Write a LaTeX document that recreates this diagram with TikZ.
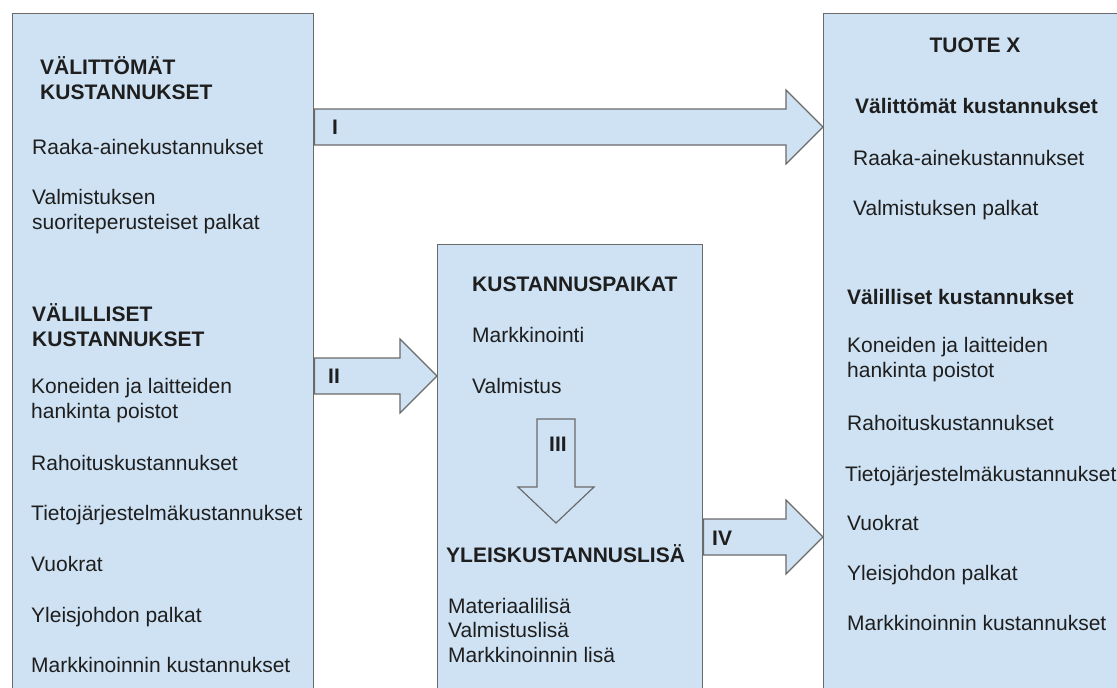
\documentclass[tikz,border=0pt]{standalone}
\usepackage{fontspec}
\setmainfont{Liberation Sans}
\usepackage{xcolor}
\usetikzlibrary{calc}

\definecolor{boxblue}{HTML}{CFE2F3}
\definecolor{edgegray}{HTML}{6A6A6A}
\definecolor{txtcol}{HTML}{1E1E1E}

% block arrows: #1 = tail, #2 = tip
\newcommand{\harrow}[2]{%
  \draw[blockarr] ($(#1)+(0,-18)$) -- ($(#2)+(-37,-18)$) -- ($(#2)+(-37,-37)$) -- (#2)
    -- ($(#2)+(-37,37)$) -- ($(#2)+(-37,18)$) -- ($(#1)+(0,18)$) -- cycle;}
\newcommand{\varrow}[2]{%
  \draw[blockarr] ($(#1)+(-19,0)$) -- ($(#2)+(-19,-36)$) -- ($(#2)+(-38,-36)$) -- (#2)
    -- ($(#2)+(38,-36)$) -- ($(#2)+(19,-36)$) -- ($(#1)+(19,0)$) -- cycle;}

\begin{document}
\begin{tikzpicture}[x=1pt, y=-1pt,
  box/.style={draw=edgegray, fill=boxblue, line width=1.4pt, inner sep=0pt,
              anchor=north west},
  blockarr/.style={draw=edgegray, fill=boxblue, line width=1.2pt, line join=miter},
  txt/.style={anchor=base west, inner sep=0pt, text=txtcol, align=left,
              font=\fontsize{21}{24.5}\selectfont},
  hd/.style={txt, font=\fontsize{21}{24.5}\selectfont\bfseries}
]
\useasboundingbox (0,0) rectangle (1117,688);
\clip (0,0) rectangle (1117,688);

% Boxes
\node[box, minimum width=301pt, minimum height=720pt] (lbox) at (12,13) {};
\node[box, minimum width=265pt, minimum height=480pt] (mbox) at (437,244) {};
\node[box, minimum width=320pt, minimum height=720pt] (rbox) at (823,13) {};

% Left box (multi-line texts sit on their last baseline)
\node[hd]  (ldirh)  at (40,99)  {VÄLITTÖMÄT\\KUSTANNUKSET};
\node[txt] (lraw)   at (32,154) {Raaka-ainekustannukset};
\node[txt] (lwage)  at (32,229) {Valmistuksen\\suoriteperusteiset palkat};
\node[hd]  (lindh)  at (32,346) {VÄLILLISET\\KUSTANNUKSET};
\node[txt] (ldep)   at (31,418) {Koneiden ja laitteiden\\hankinta poistot};
\node[txt] (lfin)   at (31,470) {Rahoituskustannukset};
\node[txt] (lit)    at (31,520) {Tietojärjestelmäkustannukset};
\node[txt] (lrent)  at (31,571) {Vuokrat};
\node[txt] (lmgmt)  at (31,622) {Yleisjohdon palkat};
\node[txt] (lmkt)   at (31,672) {Markkinoinnin kustannukset};

% Middle box
\node[hd]  (mcenh)  at (472,291) {KUSTANNUSPAIKAT};
\node[txt] (mmkt)   at (472,342) {Markkinointi};
\node[txt] (mprod)  at (472,393) {Valmistus};
\node[hd]  (mohh)   at (446,562) {YLEISKUSTANNUSLISÄ};
\node[txt] (mrates) at (448,662) {Materiaalilisä\\Valmistuslisä\\Markkinoinnin lisä};

% Right box
\node[hd, anchor=base] (rtitle) at (975,52) {TUOTE X};
\node[hd]  (rdirh)  at (855,113) {Välittömät kustannukset};
\node[txt] (rraw)   at (853,165) {Raaka-ainekustannukset};
\node[txt] (rwage)  at (853,215) {Valmistuksen palkat};
\node[hd]  (rindh)  at (847,304) {Välilliset kustannukset};
\node[txt] (rdep)   at (847,377) {Koneiden ja laitteiden\\hankinta poistot};
\node[txt] (rfin)   at (847,430) {Rahoituskustannukset};
\node[txt] (rit)    at (845,481) {Tietojärjestelmäkustannukset};
\node[txt] (rrent)  at (847,530) {Vuokrat};
\node[txt] (rmgmt)  at (847,580) {Yleisjohdon palkat};
\node[txt] (rmkt)   at (847,630) {Markkinoinnin kustannukset};

% Arrow ends
\coordinate (aIs)   at (lbox.east |- 0,127);
\coordinate (aIe)   at (rbox.west |- aIs);
\coordinate (aIIs)  at (lbox.east |- 0,376);
\coordinate (aIIe)  at (mbox.west |- aIIs);
\coordinate (aIIIs) at (556,419);
\coordinate (aIIIe) at (556,523);
\coordinate (aIVs)  at (mbox.east |- 0,537);
\coordinate (aIVe)  at (rbox.west |- aIVs);

% Flows
\harrow{aIs}{aIe}
\harrow{aIIs}{aIIe}
\varrow{aIIIs}{aIIIe}
\harrow{aIVs}{aIVe}

\node[hd] (lI)   at (332,134) {I};
\node[hd] (lII)  at (328,383) {II};
\node[hd] (lIII) at (549,451) {III};
\node[hd] (lIV)  at (712,545) {IV};
\end{tikzpicture}
\end{document}
